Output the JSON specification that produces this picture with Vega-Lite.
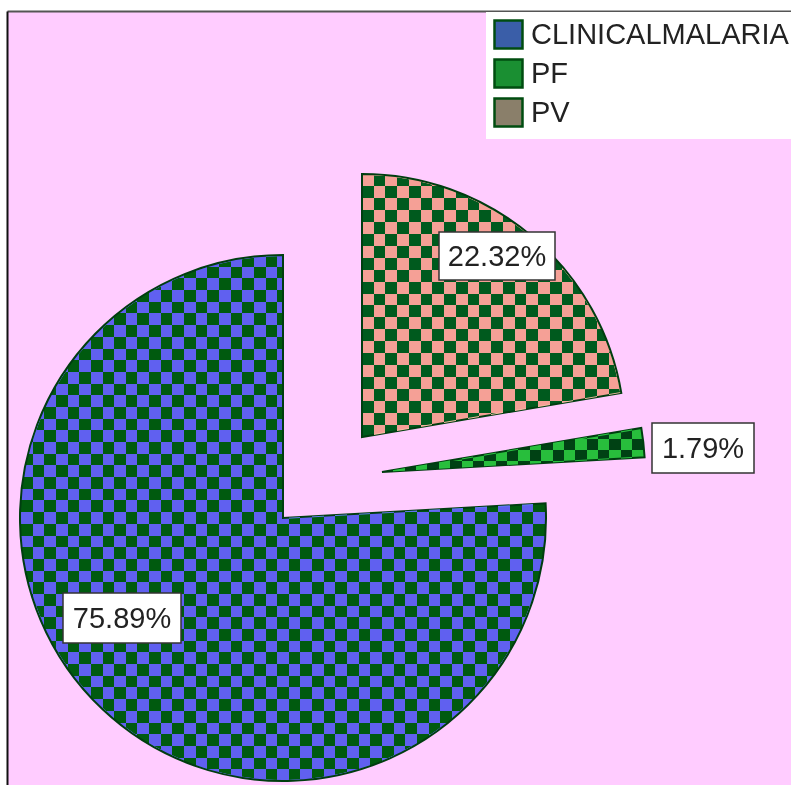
{
  "$schema": "https://vega.github.io/schema/vega-lite/v6.json",
  "width": 784,
  "height": 774,
  "autosize": {"type": "none"},
  "padding": {"left": 7, "top": 11, "right": 0, "bottom": 0},
  "background": "white",
  "config": {
    "view": {"fill": "#ffccff", "stroke": null},
    "font": "Liberation Sans"
  },
  "data": {
    "values": [
      {"category": "PV", "percent": 22.32},
      {"category": "PF", "percent": 1.79},
      {"category": "CLINICALMALARIA", "percent": 75.89}
    ]
  },
  "transform": [
    {"window": [{"op": "sum", "field": "percent", "as": "cum"}], "frame": [null, 0]},
    {"calculate": "datum.cum - datum.percent", "as": "start"},
    {"calculate": "datum.category == 'PV' ? 79 : datum.category == 'PF' ? 99 : 0", "as": "ex"},
    {"calculate": "datum.category == 'PV' ? 81 : datum.category == 'PF' ? 46 : 0", "as": "ey"},
    {"calculate": "datum.category == 'PV' ? 214 : datum.category == 'PF' ? 420 : -161", "as": "lx"},
    {"calculate": "datum.category == 'PV' ? 262 : datum.category == 'PF' ? 70 : -100", "as": "ly"},
    {"calculate": "format(datum.percent, '.2f') + '%'", "as": "label"}
  ],
  "layer": [
    {
      "mark": {"type": "arc", "radius": 263, "strokeWidth": 0},
      "encoding": {
        "x": {"field": "ex", "type": "quantitative", "scale": {"domain": [-276, 508], "nice": false, "zero": false},
          "axis": {"orient": "top", "title": null, "ticks": false, "labels": false, "grid": false, "domainColor": "#555555", "domainWidth": 2}},
        "y": {"field": "ey", "type": "quantitative", "scale": {"domain": [-267, 507], "nice": false, "zero": false},
          "axis": {"orient": "left", "title": null, "ticks": false, "labels": false, "grid": false, "domainColor": "#111111", "domainWidth": 2}},
        "theta": {"field": "start", "type": "quantitative", "scale": {"domain": [0, 100]}},
        "theta2": {"field": "cum"},
        "color": {
          "field": "category",
          "type": "nominal",
          "scale": {"domain": ["CLINICALMALARIA", "PF", "PV"], "range": ["#3a5ea8", "#1a8f32", "#8a7f6a"]},
          "legend": {
            "title": null,
            "orient": "none",
            "legendX": 479,
            "legendY": 1,
            "symbolType": "square",
            "symbolSize": 784,
            "symbolStrokeColor": "#004d10",
            "symbolStrokeWidth": 2.5,
            "symbolOpacity": 1,
            "labelFontSize": 29,
            "labelFont": "Liberation Sans",
            "labelColor": "#222222",
            "labelLimit": 0,
            "labelOffset": 7,
            "rowPadding": 0,
            "padding": 7,
            "fillColor": "white"
          }
        }
      }
    },
    {
      "mark": {"type": "arc", "radius": 263, "stroke": "#003d10", "strokeWidth": 2},
      "encoding": {
        "x": {"field": "ex", "type": "quantitative",
          "axis": {"orient": "top", "title": null, "ticks": false, "labels": false, "grid": false, "domainColor": "#555555", "domainWidth": 2}},
        "y": {"field": "ey", "type": "quantitative",
          "axis": {"orient": "left", "title": null, "ticks": false, "labels": false, "grid": false, "domainColor": "#111111", "domainWidth": 2}},
        "theta": {"field": "start", "type": "quantitative"},
        "theta2": {"field": "cum"},
        "fill": {
          "condition": [
            {"test": "datum.category == 'PV'", "value": {"gradient": "linear", "x1": 0, "y1": 0, "x2": 0, "y2": 1, "stops": [
              {"offset": 0, "color": "#f5a096"}, {"offset": 0.0455, "color": "#f5a096"},
              {"offset": 0.0455, "color": "#005a1e"}, {"offset": 0.0909, "color": "#005a1e"},
              {"offset": 0.0909, "color": "#f5a096"}, {"offset": 0.1364, "color": "#f5a096"},
              {"offset": 0.1364, "color": "#005a1e"}, {"offset": 0.1818, "color": "#005a1e"},
              {"offset": 0.1818, "color": "#f5a096"}, {"offset": 0.2273, "color": "#f5a096"},
              {"offset": 0.2273, "color": "#005a1e"}, {"offset": 0.2727, "color": "#005a1e"},
              {"offset": 0.2727, "color": "#f5a096"}, {"offset": 0.3182, "color": "#f5a096"},
              {"offset": 0.3182, "color": "#005a1e"}, {"offset": 0.3636, "color": "#005a1e"},
              {"offset": 0.3636, "color": "#f5a096"}, {"offset": 0.4091, "color": "#f5a096"},
              {"offset": 0.4091, "color": "#005a1e"}, {"offset": 0.4545, "color": "#005a1e"},
              {"offset": 0.4545, "color": "#f5a096"}, {"offset": 0.5, "color": "#f5a096"},
              {"offset": 0.5, "color": "#005a1e"}, {"offset": 0.5455, "color": "#005a1e"},
              {"offset": 0.5455, "color": "#f5a096"}, {"offset": 0.5909, "color": "#f5a096"},
              {"offset": 0.5909, "color": "#005a1e"}, {"offset": 0.6364, "color": "#005a1e"},
              {"offset": 0.6364, "color": "#f5a096"}, {"offset": 0.6818, "color": "#f5a096"},
              {"offset": 0.6818, "color": "#005a1e"}, {"offset": 0.7273, "color": "#005a1e"},
              {"offset": 0.7273, "color": "#f5a096"}, {"offset": 0.7727, "color": "#f5a096"},
              {"offset": 0.7727, "color": "#005a1e"}, {"offset": 0.8182, "color": "#005a1e"},
              {"offset": 0.8182, "color": "#f5a096"}, {"offset": 0.8636, "color": "#f5a096"},
              {"offset": 0.8636, "color": "#005a1e"}, {"offset": 0.9091, "color": "#005a1e"},
              {"offset": 0.9091, "color": "#f5a096"}, {"offset": 0.9545, "color": "#f5a096"},
              {"offset": 0.9545, "color": "#005a1e"}, {"offset": 1, "color": "#005a1e"}
            ]}},
            {"test": "datum.category == 'PF'", "value": {"gradient": "linear", "x1": 0, "y1": 0, "x2": 0, "y2": 1, "stops": [
              {"offset": 0, "color": "#28be3c"}, {"offset": 0.25, "color": "#28be3c"},
              {"offset": 0.25, "color": "#004114"}, {"offset": 0.5, "color": "#004114"},
              {"offset": 0.5, "color": "#28be3c"}, {"offset": 0.75, "color": "#28be3c"},
              {"offset": 0.75, "color": "#004114"}, {"offset": 1, "color": "#004114"}
            ]}}
          ],
          "value": {"gradient": "linear", "x1": 0, "y1": 0, "x2": 0, "y2": 1, "stops": [
            {"offset": 0, "color": "#6060f0"}, {"offset": 0.0222, "color": "#6060f0"},
            {"offset": 0.0222, "color": "#005a0f"}, {"offset": 0.0444, "color": "#005a0f"},
            {"offset": 0.0444, "color": "#6060f0"}, {"offset": 0.0667, "color": "#6060f0"},
            {"offset": 0.0667, "color": "#005a0f"}, {"offset": 0.0889, "color": "#005a0f"},
            {"offset": 0.0889, "color": "#6060f0"}, {"offset": 0.1111, "color": "#6060f0"},
            {"offset": 0.1111, "color": "#005a0f"}, {"offset": 0.1333, "color": "#005a0f"},
            {"offset": 0.1333, "color": "#6060f0"}, {"offset": 0.1556, "color": "#6060f0"},
            {"offset": 0.1556, "color": "#005a0f"}, {"offset": 0.1778, "color": "#005a0f"},
            {"offset": 0.1778, "color": "#6060f0"}, {"offset": 0.2, "color": "#6060f0"},
            {"offset": 0.2, "color": "#005a0f"}, {"offset": 0.2222, "color": "#005a0f"},
            {"offset": 0.2222, "color": "#6060f0"}, {"offset": 0.2444, "color": "#6060f0"},
            {"offset": 0.2444, "color": "#005a0f"}, {"offset": 0.2667, "color": "#005a0f"},
            {"offset": 0.2667, "color": "#6060f0"}, {"offset": 0.2889, "color": "#6060f0"},
            {"offset": 0.2889, "color": "#005a0f"}, {"offset": 0.3111, "color": "#005a0f"},
            {"offset": 0.3111, "color": "#6060f0"}, {"offset": 0.3333, "color": "#6060f0"},
            {"offset": 0.3333, "color": "#005a0f"}, {"offset": 0.3556, "color": "#005a0f"},
            {"offset": 0.3556, "color": "#6060f0"}, {"offset": 0.3778, "color": "#6060f0"},
            {"offset": 0.3778, "color": "#005a0f"}, {"offset": 0.4, "color": "#005a0f"},
            {"offset": 0.4, "color": "#6060f0"}, {"offset": 0.4222, "color": "#6060f0"},
            {"offset": 0.4222, "color": "#005a0f"}, {"offset": 0.4444, "color": "#005a0f"},
            {"offset": 0.4444, "color": "#6060f0"}, {"offset": 0.4667, "color": "#6060f0"},
            {"offset": 0.4667, "color": "#005a0f"}, {"offset": 0.4889, "color": "#005a0f"},
            {"offset": 0.4889, "color": "#6060f0"}, {"offset": 0.5111, "color": "#6060f0"},
            {"offset": 0.5111, "color": "#005a0f"}, {"offset": 0.5333, "color": "#005a0f"},
            {"offset": 0.5333, "color": "#6060f0"}, {"offset": 0.5556, "color": "#6060f0"},
            {"offset": 0.5556, "color": "#005a0f"}, {"offset": 0.5778, "color": "#005a0f"},
            {"offset": 0.5778, "color": "#6060f0"}, {"offset": 0.6, "color": "#6060f0"},
            {"offset": 0.6, "color": "#005a0f"}, {"offset": 0.6222, "color": "#005a0f"},
            {"offset": 0.6222, "color": "#6060f0"}, {"offset": 0.6444, "color": "#6060f0"},
            {"offset": 0.6444, "color": "#005a0f"}, {"offset": 0.6667, "color": "#005a0f"},
            {"offset": 0.6667, "color": "#6060f0"}, {"offset": 0.6889, "color": "#6060f0"},
            {"offset": 0.6889, "color": "#005a0f"}, {"offset": 0.7111, "color": "#005a0f"},
            {"offset": 0.7111, "color": "#6060f0"}, {"offset": 0.7333, "color": "#6060f0"},
            {"offset": 0.7333, "color": "#005a0f"}, {"offset": 0.7556, "color": "#005a0f"},
            {"offset": 0.7556, "color": "#6060f0"}, {"offset": 0.7778, "color": "#6060f0"},
            {"offset": 0.7778, "color": "#005a0f"}, {"offset": 0.8, "color": "#005a0f"},
            {"offset": 0.8, "color": "#6060f0"}, {"offset": 0.8222, "color": "#6060f0"},
            {"offset": 0.8222, "color": "#005a0f"}, {"offset": 0.8444, "color": "#005a0f"},
            {"offset": 0.8444, "color": "#6060f0"}, {"offset": 0.8667, "color": "#6060f0"},
            {"offset": 0.8667, "color": "#005a0f"}, {"offset": 0.8889, "color": "#005a0f"},
            {"offset": 0.8889, "color": "#6060f0"}, {"offset": 0.9111, "color": "#6060f0"},
            {"offset": 0.9111, "color": "#005a0f"}, {"offset": 0.9333, "color": "#005a0f"},
            {"offset": 0.9333, "color": "#6060f0"}, {"offset": 0.9556, "color": "#6060f0"},
            {"offset": 0.9556, "color": "#005a0f"}, {"offset": 0.9778, "color": "#005a0f"},
            {"offset": 0.9778, "color": "#6060f0"}, {"offset": 1, "color": "#6060f0"}
          ]}
        }
      }
    },
    {
      "mark": {"type": "arc", "radius": 262, "strokeWidth": 0, "blend": "difference"},
      "encoding": {
        "x": {"field": "ex", "type": "quantitative",
          "axis": {"orient": "top", "title": null, "ticks": false, "labels": false, "grid": false, "domainColor": "#555555", "domainWidth": 2}},
        "y": {"field": "ey", "type": "quantitative",
          "axis": {"orient": "left", "title": null, "ticks": false, "labels": false, "grid": false, "domainColor": "#111111", "domainWidth": 2}},
        "theta": {"field": "start", "type": "quantitative"},
        "theta2": {"field": "cum"},
        "fill": {
          "condition": [
            {"test": "datum.category == 'PV'", "value": {"gradient": "linear", "x1": 0, "y1": 0, "x2": 1, "y2": 0, "stops": [
              {"offset": 0, "color": "#000000"}, {"offset": 0.0455, "color": "#000000"},
              {"offset": 0.0455, "color": "#f5fab4"}, {"offset": 0.0909, "color": "#f5fab4"},
              {"offset": 0.0909, "color": "#000000"}, {"offset": 0.1364, "color": "#000000"},
              {"offset": 0.1364, "color": "#f5fab4"}, {"offset": 0.1818, "color": "#f5fab4"},
              {"offset": 0.1818, "color": "#000000"}, {"offset": 0.2273, "color": "#000000"},
              {"offset": 0.2273, "color": "#f5fab4"}, {"offset": 0.2727, "color": "#f5fab4"},
              {"offset": 0.2727, "color": "#000000"}, {"offset": 0.3182, "color": "#000000"},
              {"offset": 0.3182, "color": "#f5fab4"}, {"offset": 0.3636, "color": "#f5fab4"},
              {"offset": 0.3636, "color": "#000000"}, {"offset": 0.4091, "color": "#000000"},
              {"offset": 0.4091, "color": "#f5fab4"}, {"offset": 0.4545, "color": "#f5fab4"},
              {"offset": 0.4545, "color": "#000000"}, {"offset": 0.5, "color": "#000000"},
              {"offset": 0.5, "color": "#f5fab4"}, {"offset": 0.5455, "color": "#f5fab4"},
              {"offset": 0.5455, "color": "#000000"}, {"offset": 0.5909, "color": "#000000"},
              {"offset": 0.5909, "color": "#f5fab4"}, {"offset": 0.6364, "color": "#f5fab4"},
              {"offset": 0.6364, "color": "#000000"}, {"offset": 0.6818, "color": "#000000"},
              {"offset": 0.6818, "color": "#f5fab4"}, {"offset": 0.7273, "color": "#f5fab4"},
              {"offset": 0.7273, "color": "#000000"}, {"offset": 0.7727, "color": "#000000"},
              {"offset": 0.7727, "color": "#f5fab4"}, {"offset": 0.8182, "color": "#f5fab4"},
              {"offset": 0.8182, "color": "#000000"}, {"offset": 0.8636, "color": "#000000"},
              {"offset": 0.8636, "color": "#f5fab4"}, {"offset": 0.9091, "color": "#f5fab4"},
              {"offset": 0.9091, "color": "#000000"}, {"offset": 0.9545, "color": "#000000"},
              {"offset": 0.9545, "color": "#f5fab4"}, {"offset": 1, "color": "#f5fab4"}
            ]}},
            {"test": "datum.category == 'PF'", "value": {"gradient": "linear", "x1": 0, "y1": 0, "x2": 1, "y2": 0, "stops": [
              {"offset": 0, "color": "#000000"}, {"offset": 0.0435, "color": "#000000"},
              {"offset": 0.0435, "color": "#28ff50"}, {"offset": 0.087, "color": "#28ff50"},
              {"offset": 0.087, "color": "#000000"}, {"offset": 0.1304, "color": "#000000"},
              {"offset": 0.1304, "color": "#28ff50"}, {"offset": 0.1739, "color": "#28ff50"},
              {"offset": 0.1739, "color": "#000000"}, {"offset": 0.2174, "color": "#000000"},
              {"offset": 0.2174, "color": "#28ff50"}, {"offset": 0.2609, "color": "#28ff50"},
              {"offset": 0.2609, "color": "#000000"}, {"offset": 0.3043, "color": "#000000"},
              {"offset": 0.3043, "color": "#28ff50"}, {"offset": 0.3478, "color": "#28ff50"},
              {"offset": 0.3478, "color": "#000000"}, {"offset": 0.3913, "color": "#000000"},
              {"offset": 0.3913, "color": "#28ff50"}, {"offset": 0.4348, "color": "#28ff50"},
              {"offset": 0.4348, "color": "#000000"}, {"offset": 0.4783, "color": "#000000"},
              {"offset": 0.4783, "color": "#28ff50"}, {"offset": 0.5217, "color": "#28ff50"},
              {"offset": 0.5217, "color": "#000000"}, {"offset": 0.5652, "color": "#000000"},
              {"offset": 0.5652, "color": "#28ff50"}, {"offset": 0.6087, "color": "#28ff50"},
              {"offset": 0.6087, "color": "#000000"}, {"offset": 0.6522, "color": "#000000"},
              {"offset": 0.6522, "color": "#28ff50"}, {"offset": 0.6957, "color": "#28ff50"},
              {"offset": 0.6957, "color": "#000000"}, {"offset": 0.7391, "color": "#000000"},
              {"offset": 0.7391, "color": "#28ff50"}, {"offset": 0.7826, "color": "#28ff50"},
              {"offset": 0.7826, "color": "#000000"}, {"offset": 0.8261, "color": "#000000"},
              {"offset": 0.8261, "color": "#28ff50"}, {"offset": 0.8696, "color": "#28ff50"},
              {"offset": 0.8696, "color": "#000000"}, {"offset": 0.913, "color": "#000000"},
              {"offset": 0.913, "color": "#28ff50"}, {"offset": 0.9565, "color": "#28ff50"},
              {"offset": 0.9565, "color": "#000000"}, {"offset": 1, "color": "#000000"}
            ]}}
          ],
          "value": {"gradient": "linear", "x1": 0, "y1": 0, "x2": 1, "y2": 0, "stops": [
            {"offset": 0, "color": "#000000"}, {"offset": 0.0222, "color": "#000000"},
            {"offset": 0.0222, "color": "#60baff"}, {"offset": 0.0444, "color": "#60baff"},
            {"offset": 0.0444, "color": "#000000"}, {"offset": 0.0667, "color": "#000000"},
            {"offset": 0.0667, "color": "#60baff"}, {"offset": 0.0889, "color": "#60baff"},
            {"offset": 0.0889, "color": "#000000"}, {"offset": 0.1111, "color": "#000000"},
            {"offset": 0.1111, "color": "#60baff"}, {"offset": 0.1333, "color": "#60baff"},
            {"offset": 0.1333, "color": "#000000"}, {"offset": 0.1556, "color": "#000000"},
            {"offset": 0.1556, "color": "#60baff"}, {"offset": 0.1778, "color": "#60baff"},
            {"offset": 0.1778, "color": "#000000"}, {"offset": 0.2, "color": "#000000"},
            {"offset": 0.2, "color": "#60baff"}, {"offset": 0.2222, "color": "#60baff"},
            {"offset": 0.2222, "color": "#000000"}, {"offset": 0.2444, "color": "#000000"},
            {"offset": 0.2444, "color": "#60baff"}, {"offset": 0.2667, "color": "#60baff"},
            {"offset": 0.2667, "color": "#000000"}, {"offset": 0.2889, "color": "#000000"},
            {"offset": 0.2889, "color": "#60baff"}, {"offset": 0.3111, "color": "#60baff"},
            {"offset": 0.3111, "color": "#000000"}, {"offset": 0.3333, "color": "#000000"},
            {"offset": 0.3333, "color": "#60baff"}, {"offset": 0.3556, "color": "#60baff"},
            {"offset": 0.3556, "color": "#000000"}, {"offset": 0.3778, "color": "#000000"},
            {"offset": 0.3778, "color": "#60baff"}, {"offset": 0.4, "color": "#60baff"},
            {"offset": 0.4, "color": "#000000"}, {"offset": 0.4222, "color": "#000000"},
            {"offset": 0.4222, "color": "#60baff"}, {"offset": 0.4444, "color": "#60baff"},
            {"offset": 0.4444, "color": "#000000"}, {"offset": 0.4667, "color": "#000000"},
            {"offset": 0.4667, "color": "#60baff"}, {"offset": 0.4889, "color": "#60baff"},
            {"offset": 0.4889, "color": "#000000"}, {"offset": 0.5111, "color": "#000000"},
            {"offset": 0.5111, "color": "#60baff"}, {"offset": 0.5333, "color": "#60baff"},
            {"offset": 0.5333, "color": "#000000"}, {"offset": 0.5556, "color": "#000000"},
            {"offset": 0.5556, "color": "#60baff"}, {"offset": 0.5778, "color": "#60baff"},
            {"offset": 0.5778, "color": "#000000"}, {"offset": 0.6, "color": "#000000"},
            {"offset": 0.6, "color": "#60baff"}, {"offset": 0.6222, "color": "#60baff"},
            {"offset": 0.6222, "color": "#000000"}, {"offset": 0.6444, "color": "#000000"},
            {"offset": 0.6444, "color": "#60baff"}, {"offset": 0.6667, "color": "#60baff"},
            {"offset": 0.6667, "color": "#000000"}, {"offset": 0.6889, "color": "#000000"},
            {"offset": 0.6889, "color": "#60baff"}, {"offset": 0.7111, "color": "#60baff"},
            {"offset": 0.7111, "color": "#000000"}, {"offset": 0.7333, "color": "#000000"},
            {"offset": 0.7333, "color": "#60baff"}, {"offset": 0.7556, "color": "#60baff"},
            {"offset": 0.7556, "color": "#000000"}, {"offset": 0.7778, "color": "#000000"},
            {"offset": 0.7778, "color": "#60baff"}, {"offset": 0.8, "color": "#60baff"},
            {"offset": 0.8, "color": "#000000"}, {"offset": 0.8222, "color": "#000000"},
            {"offset": 0.8222, "color": "#60baff"}, {"offset": 0.8444, "color": "#60baff"},
            {"offset": 0.8444, "color": "#000000"}, {"offset": 0.8667, "color": "#000000"},
            {"offset": 0.8667, "color": "#60baff"}, {"offset": 0.8889, "color": "#60baff"},
            {"offset": 0.8889, "color": "#000000"}, {"offset": 0.9111, "color": "#000000"},
            {"offset": 0.9111, "color": "#60baff"}, {"offset": 0.9333, "color": "#60baff"},
            {"offset": 0.9333, "color": "#000000"}, {"offset": 0.9556, "color": "#000000"},
            {"offset": 0.9556, "color": "#60baff"}, {"offset": 0.9778, "color": "#60baff"},
            {"offset": 0.9778, "color": "#000000"}, {"offset": 1, "color": "#000000"}
          ]}
        }
      }
    },
    {
      "mark": {"type": "point", "filled": true, "fill": "white", "stroke": "#333333", "strokeWidth": 1.5, "opacity": 1, "size": 10000},
      "encoding": {
        "x": {"field": "lx", "type": "quantitative",
          "axis": {"orient": "top", "title": null, "ticks": false, "labels": false, "grid": false, "domainColor": "#555555", "domainWidth": 2}},
        "y": {"field": "ly", "type": "quantitative",
          "axis": {"orient": "left", "title": null, "ticks": false, "labels": false, "grid": false, "domainColor": "#111111", "domainWidth": 2}},
        "shape": {
          "field": "label",
          "type": "nominal",
          "scale": {"domain": ["75.89%", "1.79%", "22.32%"], "range": ["M-1.18,-0.5H1.18V0.5H-1.18Z", "M-1.02,-0.5H1.02V0.5H-1.02Z", "M-1.16,-0.48H1.16V0.48H-1.16Z"]},
          "legend": null
        }
      }
    },
    {
      "mark": {"type": "text", "align": "center", "baseline": "middle", "fontSize": 29, "font": "Liberation Sans", "fill": "#222222", "dy": 1},
      "encoding": {
        "x": {"field": "lx", "type": "quantitative",
          "axis": {"orient": "top", "title": null, "ticks": false, "labels": false, "grid": false, "domainColor": "#555555", "domainWidth": 2}},
        "y": {"field": "ly", "type": "quantitative",
          "axis": {"orient": "left", "title": null, "ticks": false, "labels": false, "grid": false, "domainColor": "#111111", "domainWidth": 2}},
        "text": {"field": "label"}
      }
    }
  ]
}
